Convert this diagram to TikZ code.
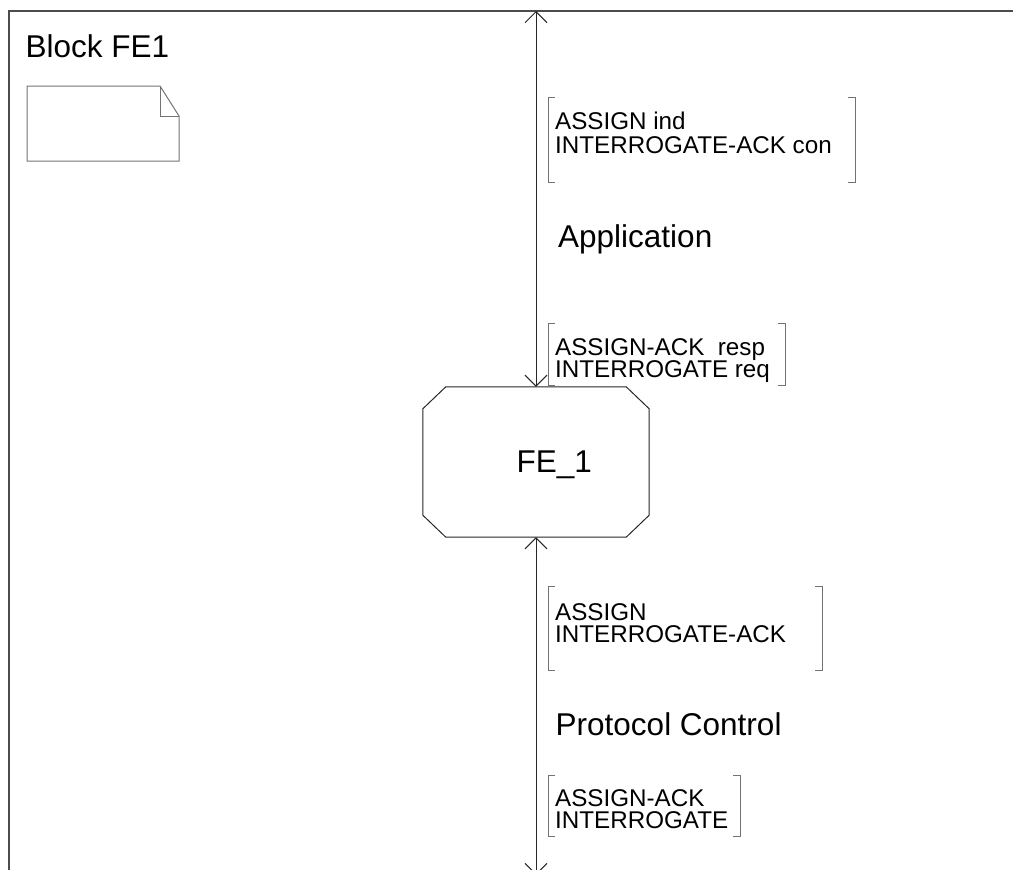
\documentclass[tikz,border=0pt]{standalone}
\usepackage{fontspec}
\setmainfont{Liberation Sans}
\usetikzlibrary{arrows.meta}

% two square brackets round a signal list: left x, top y, right x, bottom y
\newcommand{\msgbracket}[4]{%
  \draw[bracketline] (#1+7,#2) -- (#1,#2) -- (#1,#4) -- (#1+7,#4);
  \draw[bracketline] (#3-7,#2) -- (#3,#2) -- (#3,#4) -- (#3-7,#4);
}
\newcommand{\tightlines}{\lineskiplimit=-30pt\relax}

\tikzset{
  framestroke/.style={draw=black!70, line width=1.3pt},
  bracketline/.style={draw=black!55, line width=1pt},
  channel/.style={{Straight Barb[length=11pt,width=22pt]}-{Straight Barb[length=11pt,width=22pt]},
                  draw=black!85, line width=1pt},
  blockstate/.style={draw=black!85, line width=1pt},
  bigtext/.style={anchor=base west, inner sep=0pt, font=\fontsize{31.5}{36}\selectfont},
  sigtext/.style={anchor=base west, inner sep=0pt, align=left,
                  font=\fontsize{24.2}{#1}\selectfont\tightlines},
  sigtext/.default=21.5
}

\begin{document}
\begin{tikzpicture}[x=1pt,y=-1pt]
    \useasboundingbox (0,0) rectangle (1013,870);

    % block frame
    \draw[framestroke] (9,870) -- (9,11) -- (1013,11);
    \node[bigtext] (blocktitle) at (25.5,57) {Block FE1};

    % text symbol
    \draw[bracketline] (27,86) -- (160,86) -- (179,116) -- (179,161) -- (27,161) -- cycle;
    \draw[bracketline] (160,86) -- (160,116) -- (179,116);

    % process
    \node[inner sep=0pt, minimum width=226pt, minimum height=150pt] (fe1) at (536,462) {};
    \draw[blockstate] ([xshift=23pt]fe1.north west) -- ([xshift=-23pt]fe1.north east)
      -- ([yshift=-22pt]fe1.north east) -- ([yshift=22pt]fe1.south east)
      -- ([xshift=-23pt]fe1.south east) -- ([xshift=23pt]fe1.south west)
      -- ([yshift=22pt]fe1.south west) -- ([yshift=-22pt]fe1.north west) -- cycle;
    \node[bigtext] (fe1name) at (516.5,472) {FE\_1};

    % channels
    \coordinate (chtop) at (536,11);
    \coordinate (chbot) at (536,875);
    \draw[channel] (chtop) -- (fe1.north);
    \draw[channel] (fe1.south) -- (chbot);

    \node[bigtext] (appname) at (558,247) {Application};
    \node[bigtext] (pcname) at (555.5,735) {Protocol Control};

    % signal lists (base = last line)
    \node[sigtext=23.5] (appin) at (555,153) {ASSIGN ind\\INTERROGATE-ACK con};
    \node[sigtext] (appout) at (555,377) {ASSIGN-ACK\ \ resp\\INTERROGATE req};
    \node[sigtext] (pcin) at (555,642.3) {ASSIGN\\INTERROGATE-ACK};
    \node[sigtext] (pcout) at (555,828.3) {ASSIGN-ACK\\INTERROGATE};

    \msgbracket{548}{97}{855}{182}
    \msgbracket{548}{323}{785}{385}
    \msgbracket{548}{586}{822}{670}
    \msgbracket{548}{775}{740}{836}
\end{tikzpicture}
\end{document}
